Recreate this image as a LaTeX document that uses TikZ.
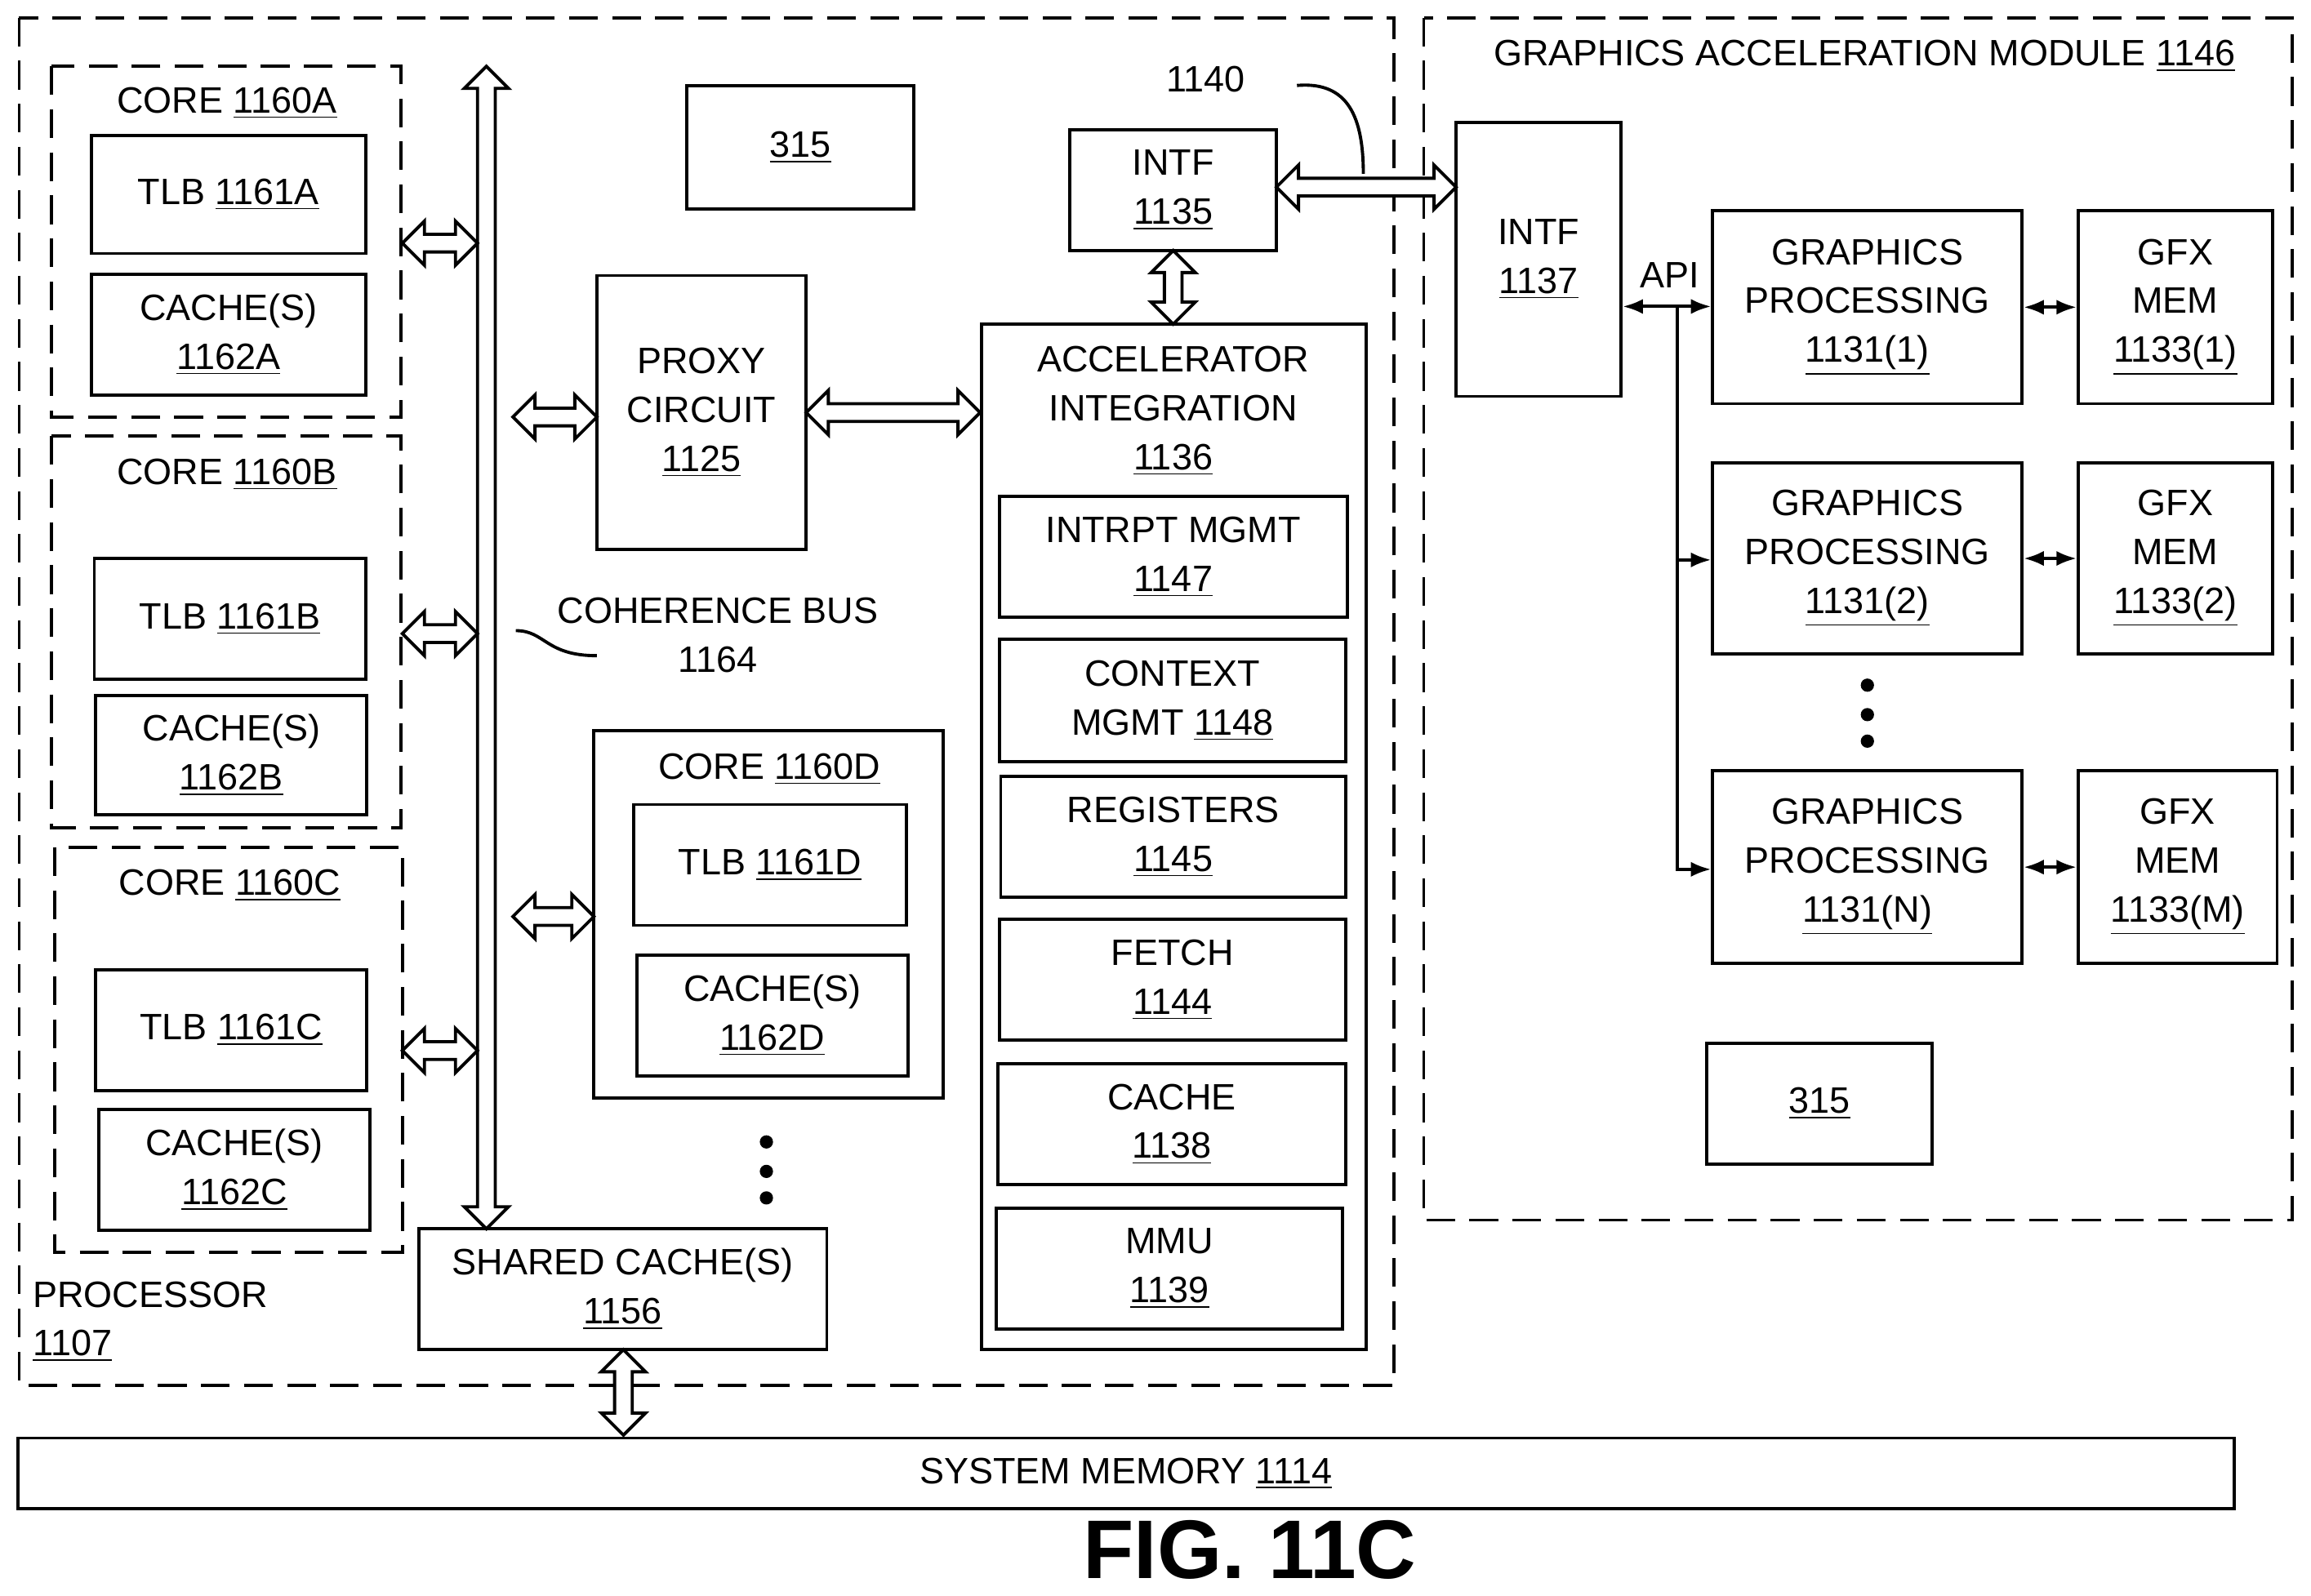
\documentclass[tikz,border=0pt]{standalone}
\usepackage{fontspec}
\setmainfont{Liberation Sans}
\usetikzlibrary{arrows.meta}
\newcommand\U{0.01805cm}
\tikzset{
 box/.style={draw,line width=1.1pt,inner sep=0pt,align=center,font=\fontsize{12.8}{17}\selectfont},
 dbox/.style={draw,line width=1.1pt,dash pattern=on 10pt off 5pt},
 txt/.style={inner sep=0pt,align=center,font=\fontsize{12.8}{17}\selectfont},
 fat/.style={draw,line width=1.1pt,fill=white},
 thin/.style={line width=1.1pt}
}
\newcommand\bx[6]{\node[box,minimum width={(#4-#2)*\U},minimum height={(#5-#3)*\U}] (#1) at ({(#2+#4)/2},{(#3+#5)/2}) {#6};}
% horizontal fat arrow: x1 x2 y
\newcommand\harr[3]{\draw[fat] (#1,#3) -- ({#1+15},{#3-15}) -- ({#1+15},{#3-6}) -- ({#2-15},{#3-6}) -- ({#2-15},{#3-15}) -- (#2,#3) -- ({#2-15},{#3+15}) -- ({#2-15},{#3+6}) -- ({#1+15},{#3+6}) -- ({#1+15},{#3+15}) -- cycle;}
\newcommand\varr[3]{\draw[fat] (#3,#1) -- ({#3-15},{#1+15}) -- ({#3-6},{#1+15}) -- ({#3-6},{#2-15}) -- ({#3-15},{#2-15}) -- (#3,#2) -- ({#3+15},{#2-15}) -- ({#3+6},{#2-15}) -- ({#3+6},{#1+15}) -- ({#3+15},{#1+15}) -- cycle;}
\newcommand\un[1]{\underline{#1}}
\begin{document}
\begin{tikzpicture}[x=\U,y=-\U]
\useasboundingbox (0,0) rectangle (1568,1083);
% outer dashed
\draw[dbox] (13,12) rectangle (946,940);
\node[txt,align=left,anchor=west] (proc) at (22,897) {PROCESSOR\\\un{1107}};
\draw[dbox] (966,12) rectangle (1555,828);
\node[txt] (gam) at (1265,38) {GRAPHICS ACCELERATION MODULE \un{1146}};
% cores
\draw[dbox] (35,45) rectangle (272,283);
\node[txt] (ca) at (154,70) {CORE \un{1160A}};
\bx{tlba}{62}{92}{248}{172}{TLB \un{1161A}}
\bx{cca}{62}{186}{248}{268}{CACHE(S)\\\un{1162A}}
\draw[dbox] (35,296) rectangle (272,562);
\node[txt] (cb) at (154,322) {CORE \un{1160B}};
\bx{tlbb}{64}{379}{248}{461}{TLB \un{1161B}}
\bx{ccb}{65}{472}{249}{553}{CACHE(S)\\\un{1162B}}
\draw[dbox] (37,575) rectangle (273,850);
\node[txt] (cc) at (156,601) {CORE \un{1160C}};
\bx{tlbc}{65}{658}{249}{740}{TLB \un{1161C}}
\bx{ccc}{67}{753}{251}{835}{CACHE(S)\\\un{1162C}}
% core D
\draw[thin] (403,496) rectangle (640,745);
\node[txt] (cd) at (522,522) {CORE \un{1160D}};
\bx{tlbd}{430}{546}{615}{628}{TLB \un{1161D}}
\bx{ccd}{432}{648}{616}{730}{CACHE(S)\\\un{1162D}}
\foreach \yy in {775,795,813} \fill (520,\yy) circle (4.5);
% boxes
\bx{t315}{466}{58}{620}{142}{\un{315}}
\bx{proxy}{405}{187}{547}{373}{PROXY\\CIRCUIT\\\un{1125}}
\bx{shc}{284}{834}{561}{916}{SHARED CACHE(S)\\\un{1156}}
\bx{intf5}{726}{88}{866}{170}{INTF\\\un{1135}}
\draw[thin] (666,220) rectangle (927,916);
\node[txt] (ai) at (796,279) {ACCELERATOR\\INTEGRATION\\\un{1136}};
\bx{intr}{678}{337}{914}{419}{INTRPT MGMT\\\un{1147}}
\bx{ctx}{678}{434}{913}{517}{CONTEXT\\MGMT \un{1148}}
\bx{reg}{679}{527}{913}{609}{REGISTERS\\\un{1145}}
\bx{fet}{678}{624}{913}{706}{FETCH\\\un{1144}}
\bx{cac}{677}{722}{913}{804}{CACHE\\\un{1138}}
\bx{mmu}{676}{820}{911}{902}{MMU\\\un{1139}}
\node[txt] (cbl) at (487,431) {COHERENCE BUS\\1164};
\draw[thin] (405,445) .. controls (370,445) and (370,428) .. (350,428);
\node[txt] (l1140) at (818,54) {1140};
\draw[thin] (880,58) .. controls (915,55) and (925,80) .. (925,118);
% GAM
\bx{intf7}{988}{83}{1100}{269}{INTF\\\un{1137}}
\bx{gp1}{1162}{143}{1372}{274}{GRAPHICS\\PROCESSING\\\un{1131(1)}}
\bx{gm1}{1410}{143}{1542}{274}{GFX\\MEM\\\un{1133(1)}}
\bx{gp2}{1162}{314}{1372}{444}{GRAPHICS\\PROCESSING\\\un{1131(2)}}
\bx{gm2}{1410}{314}{1542}{444}{GFX\\MEM\\\un{1133(2)}}
\bx{gpn}{1162}{523}{1372}{654}{GRAPHICS\\PROCESSING\\\un{1131(N)}}
\bx{gmm}{1410}{523}{1545}{654}{GFX\\MEM\\\un{1133(M)}}
\foreach \yy in {465,485,503} \fill (1267,\yy) circle (4.5);
\bx{b315}{1158}{708}{1311}{790}{\un{315}}
\node[txt] (api) at (1133,187) {API};
\draw[thin,{Latex[length=7pt]}-{Latex[length=7pt]}] (intf7.east|-0,208) -- (gp1.west|-0,208);
\coordinate (j) at (1138,208);
\draw[thin,-{Latex[length=7pt]}] (j) |- (gp2.west|-0,380);
\draw[thin,-{Latex[length=7pt]}] (j) |- (gpn.west|-0,590);
\draw[thin,{Latex[length=7pt]}-{Latex[length=7pt]}] (gp1.east) -- (gm1.west);
\draw[thin,{Latex[length=7pt]}-{Latex[length=7pt]}] (gp2.east) -- (gm2.west);
\draw[thin,{Latex[length=7pt]}-{Latex[length=7pt]}] (gpn.east) -- (gmm.west);
% system memory
\bx{sys}{12}{976}{1516}{1024}{SYSTEM MEMORY \un{1114}}
\node[inner sep=0pt,font=\fontsize{29}{32}\selectfont\bfseries] (fig) at (848,1052) {FIG. 11C};
% fat arrows
\varr{45}{834}{330}
\harr{273}{324}{165}
\harr{273}{324}{430}
\harr{273}{324}{713}
\harr{348}{405}{283}
\harr{348}{403}{622}
\harr{547}{665}{280}
\harr{866}{988}{127}
\varr{170}{220}{796}
\varr{916}{974}{423}
\end{tikzpicture}
\end{document}
